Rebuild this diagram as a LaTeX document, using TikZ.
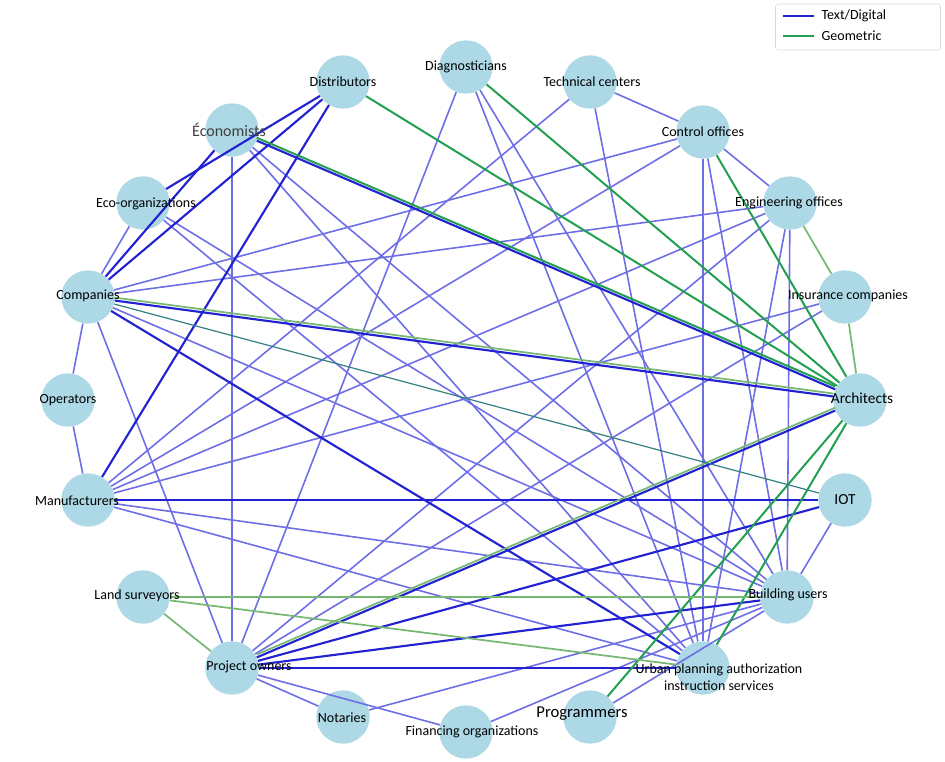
\documentclass[tikz,border=0pt]{standalone}
\usepackage{fontspec}
\setmainfont{Carlito}
\begin{document}
\begin{tikzpicture}[x=0.75pt,y=-0.75pt,
  c/.style={circle,fill=cnode,draw=none,minimum size=40pt,inner sep=0pt},
  t/.style={font=\fontsize{10.5}{12.5}\selectfont,inner sep=1pt},
  lb/.style={draw=lblue,line width=1.2pt},
  db/.style={draw=dblue,line width=1.6pt},
  gr/.style={draw=ggreen,line width=1.5pt},
  lg/.style={draw=lgreen,line width=1.3pt},
  tl/.style={draw=teal!60!gray,line width=0.9pt},
  up/.style={transform canvas={yshift=2.2pt}}]
\definecolor{cnode}{HTML}{ADD8E6}
\definecolor{lblue}{HTML}{6E6EE6}
\definecolor{dblue}{HTML}{2222D2}
\definecolor{ggreen}{HTML}{22A050}
\definecolor{lgreen}{HTML}{74B874}
\useasboundingbox (0,0) rectangle (945,762);
% nodes
\foreach \n/\x/\y in {dis/343/82,dia/466/67,tec/590/82,eco/232/130,con/703/132,eor/143/203,eng/790/203,com/88/297,ins/845/297,ope/68/400,arc/860/400,man/88/500,iot/845/500,lan/143/597,bui/787/597,pro/232/668,urb/703/668,not/343/717,fin/466/732,prg/590/717}
  \node[c] (\n) at (\x,\y) {};
% light blue edges
\foreach \a/\b in {com/eor,com/ope,ope/man,com/pro,com/con,com/eng,com/bui,eco/pro,eco/bui,eco/urb,eor/bui,eor/urb,dia/pro,dia/bui,dia/urb,tec/man,tec/con,tec/urb,con/eng,con/urb,con/bui,eng/pro,eng/man,eng/bui,eng/urb,ins/pro,ins/man,iot/bui,man/bui,man/urb,pro/not,pro/fin,not/bui,fin/bui,prg/bui,man/con}
  \draw[lb] (\a) -- (\b);
% dark blue edges
\foreach \a/\b in {dis/eor,dis/com,eco/com,dis/man,eco/arc,com/arc,com/urb,man/iot,pro/arc,pro/iot,pro/urb,pro/bui}
  \draw[db] (\a) -- (\b);
% green edges
\foreach \a/\b in {dis/arc,dia/arc,con/arc,arc/prg,arc/urb}
  \draw[gr] (\a) -- (\b);
\draw[gr,up] (eco) -- (arc);
\foreach \a/\b in {eng/ins,ins/arc,lan/bui,lan/urb,lan/pro}
  \draw[lg] (\a) -- (\b);
\draw[lg,up] (com) -- (arc);
\draw[lg,up] (pro) -- (arc);
\draw[tl] (com) -- (iot);
% labels
\node[t] (ldis) at (343,82) {Distributors};
\node[t] (ldia) at (466,67) {Diagnosticians};
\node[t] (ltec) at (592,82) {Technical centers};
\node[t,font=\fontsize{12}{14}\selectfont,text=black!75] (leco) at (229,130) {Économists};
\node[t] (lcon) at (703,132) {Control offices};
\node[t] (leor) at (146,204) {Eco-organizations};
\node[t] (leng) at (789,203) {Engineering offices};
\node[t] (lcom) at (88,296) {Companies};
\node[t] (lins) at (848,296) {Insurance companies};
\node[t] (lope) at (68,400) {Operators};
\node[t,font=\fontsize{11.5}{13}\selectfont] (larc) at (862,398) {Architects};
\node[t] (lman) at (77,501) {Manufacturers};
\node[t,font=\fontsize{11.5}{13}\selectfont] (liot) at (845,500) {IOT};
\node[t] (llan) at (137,596) {Land surveyors};
\node[t] (lbui) at (788,595) {Building users};
\node[t] (lpro) at (249,667) {Project owners};
\node[t,align=center] (lurb) at (719,677) {Urban planning authorization\\instruction services};
\node[t] (lnot) at (342,718) {Notaries};
\node[t] (lfin) at (472,732) {Financing organizations};
\node[t,font=\fontsize{12.5}{14}\selectfont] (lprg) at (582,714) {Programmers};
% legend
\node[draw=black!15,rounded corners=2pt,minimum width=165*0.75pt,minimum height=46*0.75pt] (leg) at (858,27) {};
\coordinate (l1a) at (783,16); \coordinate (l1b) at (814,16);
\coordinate (l2a) at (783,36); \coordinate (l2b) at (814,36);
\draw[dblue,line width=1.6pt] (l1a) -- (l1b);
\draw[ggreen,line width=1.6pt] (l2a) -- (l2b);
\node[t,anchor=west] (lt1) at (820,16) {Text/Digital};
\node[t,anchor=west] (lt2) at (820,36) {Geometric};
\end{tikzpicture}
\end{document}
